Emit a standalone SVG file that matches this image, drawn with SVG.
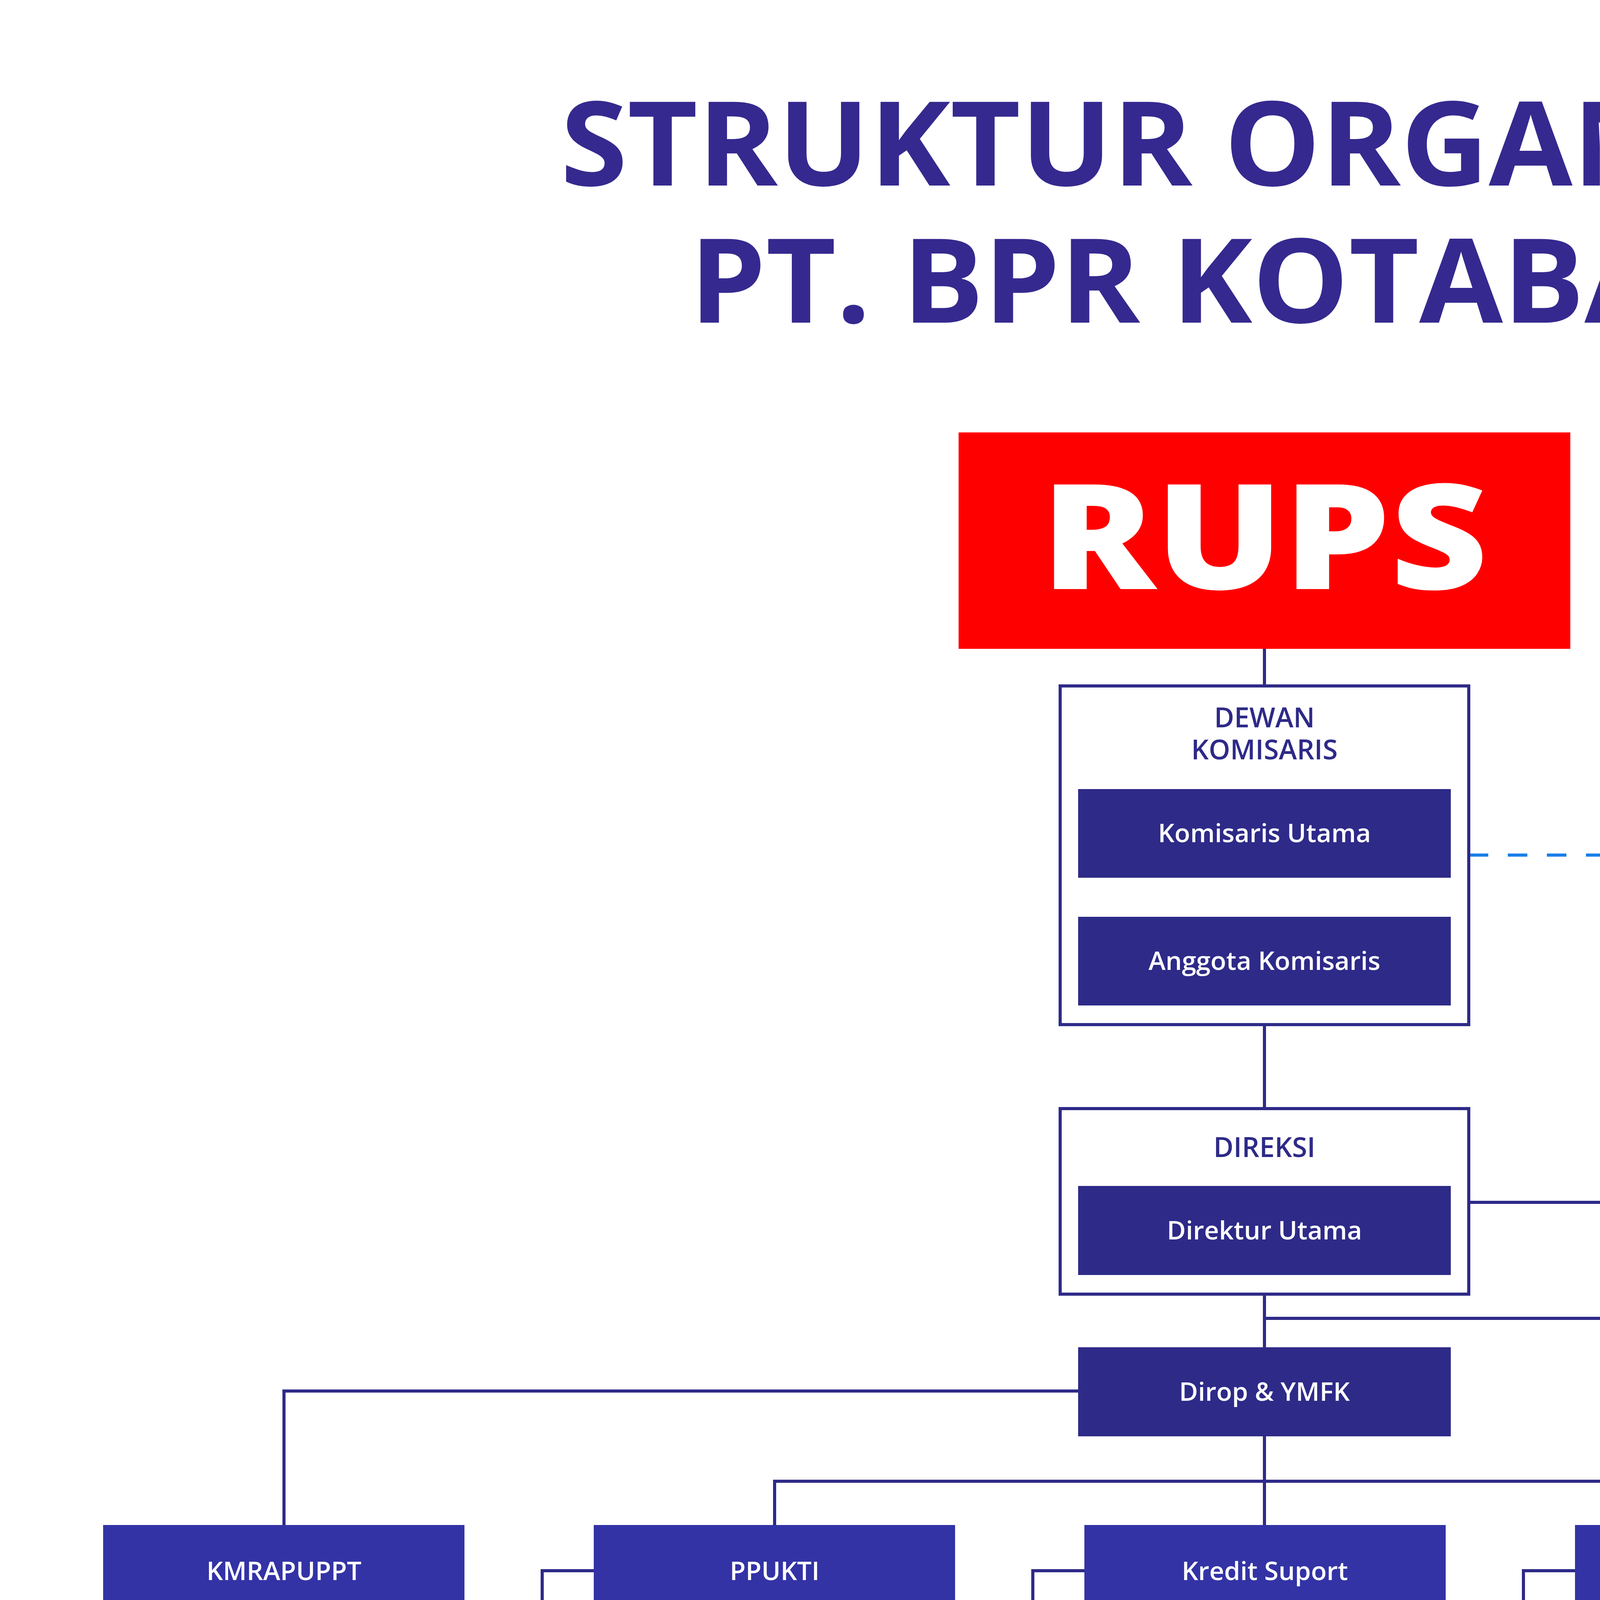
<svg xmlns="http://www.w3.org/2000/svg" width="6444" height="5365" viewBox="0 0 6444 5365">
<style>
.t{font-family:"Open Sans","Liberation Sans",sans-serif;font-weight:700;fill:#35298f;text-anchor:middle}
.bx{fill:#3333a6}
.dk{fill:#2e2a88}
.fr{fill:#fff;stroke:#2e2a88;stroke-width:8}
.lb{font-family:"Open Sans","Liberation Sans",sans-serif;font-weight:600;font-size:66px;fill:#fff;text-anchor:middle}
.hd{font-family:"Open Sans","Liberation Sans",sans-serif;font-weight:600;font-size:70px;fill:#2e2a88;text-anchor:middle}
.ln{fill:none;stroke:#2e2a88;stroke-width:8}
</style>
<rect width="6444" height="5365" fill="#fff"/>
<text class="t" x="3238" y="475" font-size="300" textLength="3606" lengthAdjust="spacingAndGlyphs">STRUKTUR ORGANISASI</text>
<text class="t" x="3238" y="826" font-size="300" textLength="2945" lengthAdjust="spacingAndGlyphs">PT. BPR KOTABARU</text>
<g id="connectors">
<path class="ln" d="M3237 1661V1756M3237 2247V2335M3237 2623V2838M3237 3264V3449M3237 3375H4490V3904M3760 3078H5655V3904M2760 3561H727V3904M3237 3677V3792M1983 3904V3792H4329V3904M3237 3792V3904"/>
<path class="ln" d="M1520 4021H1388V4770H1520M1388 4397H1520M2776 4021H2644V4770H2776M2644 4397H2776M4032 4021H3900V4770H4032M3900 4397H4032"/>
<path d="M3760 2189H5899V3904" fill="none" stroke="#1a7fe8" stroke-width="8" stroke-dasharray="50 50"/>
<path d="M727 4139V5122H5750V4139" fill="none" stroke="#f39c1f" stroke-width="8" stroke-dasharray="50 50"/>
</g>
<g id="rups"><rect x="2454" y="1107" width="1566" height="554" fill="#ff0000"/><text x="3237" y="1508" font-family="Open Sans,Liberation Sans,sans-serif" font-weight="800" font-size="375" fill="#fff" text-anchor="middle" textLength="1144" lengthAdjust="spacingAndGlyphs">RUPS</text></g>
<g id="dewan"><rect class="fr" x="2714" y="1756" width="1046" height="867"/><text class="hd" x="3237" y="1862">DEWAN</text><text class="hd" x="3237" y="1944">KOMISARIS</text></g>
<g id="komut"><rect class="dk" x="2760" y="2020" width="954" height="227"/><text class="lb" x="3237" y="2156">Komisaris Utama</text></g>
<g id="anggota"><rect class="dk" x="2760" y="2347" width="954" height="227"/><text class="lb" x="3237" y="2483">Anggota Komisaris</text></g>
<g id="direksi"><rect class="fr" x="2714" y="2838" width="1046" height="475"/><text class="hd" x="3237" y="2962">DIREKSI</text></g>
<g id="dirut"><rect class="dk" x="2760" y="3036" width="954" height="228"/><text class="lb" x="3237" y="3173">Direktur Utama</text></g>
<g id="dirop"><rect class="dk" x="2760" y="3449" width="954" height="228"/><text class="lb" x="3237" y="3586">Dirop &amp; YMFK</text></g>
<g id="kmrapuppt"><rect class="bx" x="264" y="3904" width="925" height="235"/><text class="lb" x="727" y="4045">KMRAPUPPT</text></g>
<g id="ppukti"><rect class="bx" x="1520" y="3904" width="925" height="235"/><text class="lb" x="1983" y="4045">PPUKTI</text></g>
<g id="kredit"><rect class="bx" x="2776" y="3904" width="925" height="235"/><text class="lb" x="3238" y="4045">Kredit Suport</text></g>
<g id="lpp"><rect class="bx" x="4032" y="3904" width="925" height="235"/><text class="lb" x="4494" y="4045">LPP</text></g>
<g id="audit"><rect class="bx" x="5288" y="3904" width="925" height="235"/><text class="lb" x="5750" y="4045">Audit Internal</text></g>
<g id="teller"><rect class="bx" x="1520" y="4280" width="925" height="235"/><text class="lb" x="1983" y="4421">Teller</text></g>
<g id="ask"><rect class="bx" x="2776" y="4280" width="925" height="235"/><text class="lb" x="3238" y="4421">ASK</text></g>
<g id="funding"><rect class="bx" x="4032" y="4280" width="925" height="235"/><text class="lb" x="4494" y="4421">Funding</text></g>
<g id="cs"><rect class="bx" x="1520" y="4652" width="925" height="235"/><text class="lb" x="1983" y="4793">CS</text></g>
<g id="ppk"><rect class="bx" x="2776" y="4652" width="925" height="235"/><text class="lb" x="3238" y="4793">PPK</text></g>
<g id="lending"><rect class="bx" x="4032" y="4652" width="925" height="235"/><text class="lb" x="4494" y="4793">Lending</text></g>
</svg>
